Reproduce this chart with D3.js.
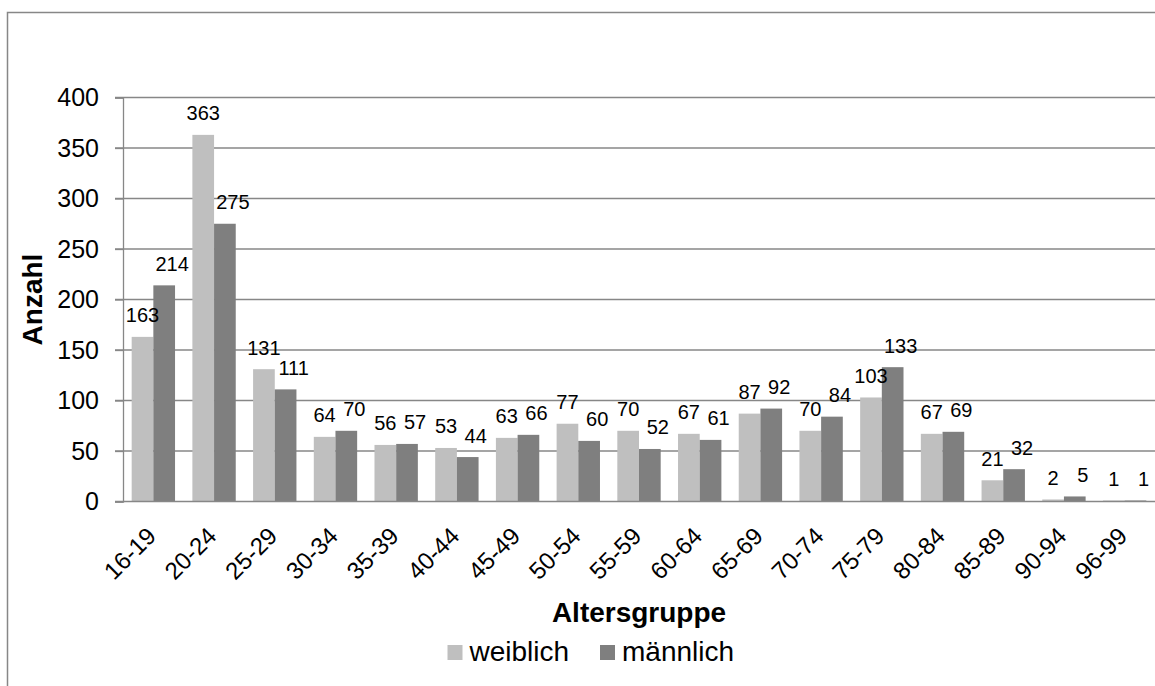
<!DOCTYPE html>
<html>
<head>
<meta charset="utf-8">
<script src="https://cdn.jsdelivr.net/npm/d3@7"></script>
<style>
  html, body { margin: 0; padding: 0; background: #fff; }
  svg { display: block; font-family: "Liberation Sans", Arial, sans-serif; }
</style>
</head>
<body>
<svg id="chart" width="1155" height="686"></svg>
<script>
// Altersgruppen und Anzahl je Geschlecht
const categories = ["16-19","20-24","25-29","30-34","35-39","40-44","45-49","50-54","55-59","60-64","65-69","70-74","75-79","80-84","85-89","90-94","96-99"];
const weiblich = [163, 363, 131, 64, 56, 53, 63, 77, 70, 67, 87, 70, 103, 67, 21, 2, 1];
const maennlich = [214, 275, 111, 70, 57, 44, 66, 60, 52, 61, 92, 84, 133, 69, 32, 5, 1];
const seriesNames = ["weiblich", "männlich"];
const seriesColors = ["#bfbfbf", "#7f7f7f"];
const yTicks = [0, 50, 100, 150, 200, 250, 300, 350, 400];

const svg = d3.select("#chart");
const gridColor = "#878787";

// Outer frame of the chart area
svg.append("rect")
  .attr("x", 7.5).attr("y", 12.5)
  .attr("width", 1200).attr("height", 720)
  .attr("fill", "none").attr("stroke", gridColor).attr("stroke-width", 1.5);

const plot = { left: 123, right: 1155, top: 97.5, bottom: 501.5 };

const x0 = d3.scaleBand().domain(categories).range([plot.left, plot.right]).padding(0);
const x1 = d3.scaleBand().domain(seriesNames).range([0, x0.bandwidth()])
  .paddingInner(0).paddingOuter(0.4);
const y = d3.scaleLinear().domain([0, 400]).range([plot.bottom, plot.top]);

// Horizontal gridlines
svg.append("g").selectAll("line")
  .data(yTicks.filter(d => d > 0))
  .join("line")
  .attr("x1", plot.left - 8).attr("x2", plot.right)
  .attr("y1", d => y(d)).attr("y2", d => y(d))
  .attr("stroke", gridColor).attr("stroke-width", 1.3);

// Y axis
const yAxis = svg.append("g")
  .attr("transform", `translate(${plot.left},0)`)
  .call(d3.axisLeft(y).tickValues(yTicks).tickSize(8).tickPadding(16));
yAxis.select(".domain").attr("stroke", gridColor).attr("stroke-width", 1.3);
yAxis.selectAll(".tick line").attr("stroke", gridColor).attr("stroke-width", 1.3);
yAxis.selectAll(".tick text")
  .attr("fill", "#000").style("font-size", "25px")
  .attr("font-family", "Liberation Sans, Arial, sans-serif");

// Bars
const rows = categories.map((c, i) => ({ cat: c, vals: [weiblich[i], maennlich[i]] }));
const groups = svg.append("g").selectAll("g")
  .data(rows).join("g")
  .attr("transform", d => `translate(${x0(d.cat)},0)`);

groups.selectAll("rect")
  .data(d => d.vals.map((v, k) => ({ key: seriesNames[k], v, k })))
  .join("rect")
  .attr("x", d => x1(d.key))
  .attr("width", x1.bandwidth())
  .attr("y", d => y(d.v))
  .attr("height", d => y(0) - y(d.v))
  .attr("fill", d => seriesColors[d.k]);

// Value labels above bars (second series nudged right so pairs don't collide)
const labelShift = [0, 8];
groups.selectAll("text")
  .data(d => d.vals.map((v, k) => ({ key: seriesNames[k], v, k })))
  .join("text")
  .attr("x", d => x1(d.key) + x1.bandwidth() / 2 + labelShift[d.k])
  .attr("y", d => y(d.v) - 14.5)
  .attr("text-anchor", "middle")
  .style("font-size", "20px")
  .attr("fill", "#000")
  .text(d => d.v);

// X axis line
const xAxis = svg.append("g")
  .attr("transform", `translate(0,${plot.bottom})`)
  .call(d3.axisBottom(x0).tickSize(0).tickPadding(0));
xAxis.select(".domain")
  .attr("d", `M${plot.left - 8},0H${plot.right}`)
  .attr("stroke", gridColor).attr("stroke-width", 1.5);
xAxis.selectAll(".tick text")
  .attr("text-anchor", "end")
  .attr("fill", "#000")
  .style("font-size", "24px")
  .attr("font-family", "Liberation Sans, Arial, sans-serif")
  .attr("dy", 0)
  .attr("transform", "translate(4,36) rotate(-45)");

// Axis titles
svg.append("text")
  .attr("x", (plot.left + plot.right) / 2).attr("y", 622)
  .attr("text-anchor", "middle")
  .style("font-size", "28px").style("font-weight", "bold")
  .text("Altersgruppe");

svg.append("text")
  .attr("transform", `translate(41.5,${(plot.top + plot.bottom) / 2}) rotate(-90)`)
  .attr("text-anchor", "middle")
  .style("font-size", "28px").style("font-weight", "bold")
  .text("Anzahl");

// Legend
const legendX = [447.5, 600];
const legend = svg.append("g").selectAll("g")
  .data(seriesNames).join("g")
  .attr("transform", (d, i) => `translate(${legendX[i]},645)`);
legend.append("rect")
  .attr("width", 15).attr("height", 15)
  .attr("fill", (d, i) => seriesColors[i]);
legend.append("text")
  .attr("x", 22).attr("y", 16)
  .style("font-size", "28px")
  .text(d => d);
</script>
</body>
</html>
